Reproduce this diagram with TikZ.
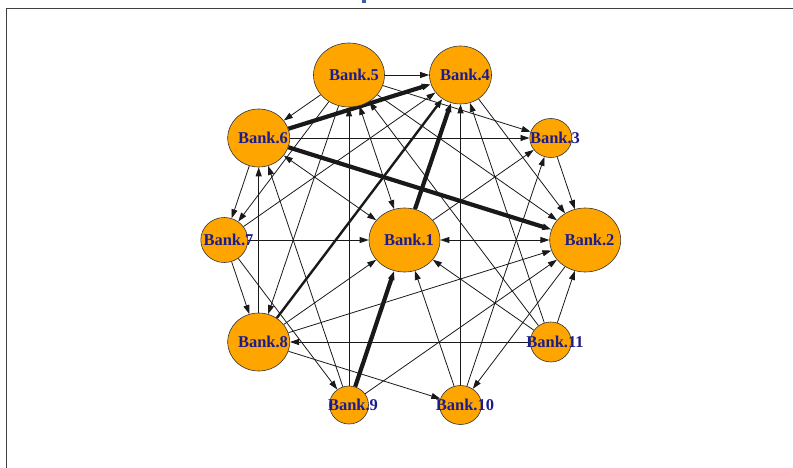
\documentclass[tikz,border=0pt]{standalone}
\usepackage{fontspec}
\setmainfont{Liberation Serif}
\usetikzlibrary{shapes.geometric,arrows.meta,backgrounds}
\definecolor{vorange}{HTML}{FFA500}
\definecolor{vlabel}{HTML}{1C1C8C}
\definecolor{frameclr}{HTML}{404040}
\definecolor{titleblue}{HTML}{3A5FA8}
\begin{document}
\begin{tikzpicture}[x=1pt,y=-1pt,
  bank/.style={ellipse, draw=black!80, line width=0.6pt, fill=vorange, inner sep=0pt},
  big/.style={bank, minimum width=71pt, minimum height=64pt},
  mid/.style={bank, minimum width=62pt, minimum height=58pt},
  small/.style={bank, minimum width=42pt, minimum height=39pt},
  lbl/.style={font=\bfseries\fontsize{16.5}{18}\selectfont, text=vlabel, inner sep=0pt},
  link/.style={draw=black!90, line width=0.8pt, -{Triangle[length=9pt,width=6pt]}},
  both/.style={link, {Triangle[length=9pt,width=6pt]}-{Triangle[length=9pt,width=6pt]}},
  heavy/.style={link, line width=4.2pt},
  medium/.style={link, line width=2.4pt}]
\useasboundingbox (0,0) rectangle (793,468);
% frame
\draw[frameclr, line width=1pt] (6,468) -- (6,9) -- (793,9);
\fill[titleblue] (362,0) rectangle (366,3.5);
% vertices
\node[big] (b1) at (404.5,240) {};
\node[big] (b2) at (585.2,240) {};
\node[small] (b3) at (550.8,138) {};
\node[mid] (b4) at (460.5,75) {};
\node[big] (b5) at (349,75) {};
\node[mid] (b6) at (258.7,138) {};
\node[bank, minimum width=47pt, minimum height=45pt] (b7) at (224.3,240) {};
\node[mid] (b8) at (258.7,342) {};
\node[bank, minimum width=39pt, minimum height=38pt] (b9) at (349,405) {};
\node[small] (b10) at (460.5,405) {};
\node[small, minimum width=41pt, minimum height=40pt] (b11) at (550.8,342) {};
% edges
\begin{pgfonlayer}{background}
\draw[link] (b5) -- (b4);
\draw[link] (b5) -- (b6);
\draw[both] (b5) -- (b1);
\draw[link] (b5) -- (b3);
\draw[link] (b5) -- (b2);
\draw[link] (b5) -- (b7);
\draw[link] (b5) -- (b8);
\draw[link] (b6) -- (b3);
\draw[both] (b6) -- (b1);
\draw[link] (b6) -- (b7);
\draw[heavy] (b6) -- (b4);
\draw[heavy] (b6) -- (b2);
\draw[link] (b7) -- (b1);
\draw[link] (b7) -- (b8);
\draw[link] (b7) -- (b9);
\draw[link] (b7) -- (b4);
\draw[link] (b8) -- (b6);
\draw[medium] (b8) -- (b4);
\draw[link] (b8) -- (b1);
\draw[link] (b8) -- (b2);
\draw[link] (b8) -- (b10);
\draw[link] (b9) -- (b5);
\draw[link] (b9) -- (b6);
\draw[heavy] (b9) -- (b1);
\draw[link] (b9) -- (b2);
\draw[link] (b10) -- (b4);
\draw[link] (b10) -- (b1);
\draw[link] (b10) -- (b3);
\draw[link] (b11) -- (b8);
\draw[link] (b11) -- (b1);
\draw[link] (b11) -- (b4);
\draw[link] (b11) -- (b2);
\draw[link] (b11) -- (b5);
\draw[both] (b1) -- (b2);
\draw[link] (b1) -- (b3);
\draw[heavy] (b1) -- (b4);
\draw[link] (b2) -- (b10);
\draw[link] (b3) -- (b2);
\draw[link] (b4) -- (b2);
\end{pgfonlayer}
% labels
\node[lbl] (l1) at (409,240) {Bank.1};
\node[lbl] (l2) at (589.5,240) {Bank.2};
\node[lbl] (l3) at (555,138) {Bank.3};
\node[lbl] (l4) at (465,75) {Bank.4};
\node[lbl] (l5) at (354,75) {Bank.5};
\node[lbl] (l6) at (263,138) {Bank.6};
\node[lbl] (l7) at (228.5,240) {Bank.7};
\node[lbl] (l8) at (263,342) {Bank.8};
\node[lbl] (l9) at (353,405) {Bank.9};
\node[lbl] (l10) at (465,405) {Bank.10};
\node[lbl] (l11) at (555,342) {Bank.11};
\end{tikzpicture}
\end{document}
